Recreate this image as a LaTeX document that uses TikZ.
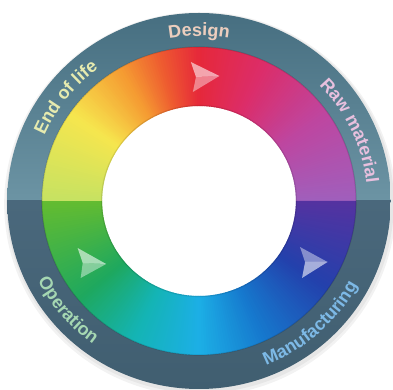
\documentclass[tikz,border=0pt]{standalone}
\usepackage{fontspec}
\newfontfamily\labfont{Liberation Sans}
\usetikzlibrary{decorations.text}
% colour wheel stops
\definecolor{s0}{RGB}{230,40,58}
\definecolor{s1}{RGB}{220,45,105}
\definecolor{s2}{RGB}{190,70,160}
\definecolor{s3}{RGB}{160,95,188}
\definecolor{s4}{RGB}{85,50,160}
\definecolor{s5}{RGB}{35,65,172}
\definecolor{s6}{RGB}{22,120,205}
\definecolor{s7}{RGB}{28,175,230}
\definecolor{s8}{RGB}{20,180,180}
\definecolor{s9}{RGB}{30,168,95}
\definecolor{s10}{RGB}{100,188,48}
\definecolor{s11}{RGB}{198,226,98}
\definecolor{s12}{RGB}{246,230,78}
\definecolor{s13}{RGB}{245,155,50}
\definecolor{s14}{RGB}{238,92,48}
% ring
\definecolor{rtA}{RGB}{70,110,128}
\definecolor{rtB}{RGB}{108,148,164}
\definecolor{rbA}{RGB}{74,104,124}
\definecolor{rbB}{RGB}{64,94,112}
% labels
\definecolor{lDesign}{RGB}{236,206,190}
\definecolor{lEnd}{RGB}{230,235,175}
\definecolor{lRaw}{RGB}{232,192,222}
\definecolor{lOper}{RGB}{165,215,178}
\definecolor{lManu}{RGB}{125,185,230}
\tikzset{
  arclabel/.style 2 args={decorate, decoration={text along path, text align=center,
     text color=#1, text={|\labfont\bfseries\fontsize{18}{18}\selectfont|#2}}},
  arrowhi/.style={fill=white, fill opacity=0.58},
  arrowlo/.style={fill=white, fill opacity=0.42},
}
\begin{document}
\begin{tikzpicture}[x=1pt,y=1pt]
\useasboundingbox (0,0) rectangle (393,390);
\begin{scope}[shift={(199,189)}, xscale=1.02]
  % soft shadow
  \fill[black, opacity=0.05] (1,-3) circle (192);
  \fill[black, opacity=0.05] (1,-2) circle (190);
  % outer ring
  \begin{scope}
    \clip (0,0) circle (188);
    \shade[top color=rtA, bottom color=rtB] (-200,0) rectangle (200,190);
    \shade[top color=rbA, bottom color=rbB] (-200,-190) rectangle (200,0);
  \end{scope}
  % white centre
  \fill[white] (0,0) circle (95.5);
  % colour wheel
  \foreach \sa/\ea/\ca/\cb in {90/65/s0/s1, 65/35/s1/s2, 35/0/s2/s3, 0/-35/s4/s5,
      -35/-65/s5/s6, -65/-90/s6/s7, -90/-115/s7/s8, -115/-140/s8/s9, -140/-180/s9/s10,
      -180/-215/s11/s12, -215/-240/s12/s13, -240/-255/s13/s14, -255/-270/s14/s0} {
    \pgfmathtruncatemacro\n{\sa-\ea}
    \foreach \i in {1,...,\n} {
      \pgfmathsetmacro\p{100-100*(\i-0.5)/\n}
      \pgfmathsetmacro\t{\sa-(\i-1)}
      \pgfmathsetmacro\tt{\sa-\i-0.4}
      \fill[\ca!\p!\cb] (\t:154) arc[start angle=\t, end angle=\tt, radius=154]
        -- (\tt:95) arc[start angle=\tt, end angle=\t, radius=95] -- cycle;
    }
  }
  \draw[black, opacity=0.12, line width=1.2] (0,0) circle (154);
  \draw[black, opacity=0.10, line width=1.2] (0,0) circle (95.5);
  % arrowheads
  \fill[arrowhi] (-8,139) -- (20,125) -- (-3,124) -- cycle;
  \fill[arrowlo] (-3,124) -- (20,125) -- (-6,109) -- cycle;
  \fill[arrowhi] (-119,-47) -- (-91,-63) -- (-114,-62) -- cycle;
  \fill[arrowlo] (-114,-62) -- (-91,-63) -- (-116,-77) -- cycle;
  \fill[arrowlo] (99,-46) -- (126,-61) -- (104,-61) -- cycle;
  \fill[arrowhi] (104,-61) -- (126,-61) -- (101,-77) -- cycle;
  % labels
  \path[arclabel={lDesign}{Design}] (150:165) arc[start angle=150, end angle=30, radius=165];
  \path[arclabel={lEnd}{End of life}] (202:165) arc[start angle=202, end angle=82, radius=165];
  \path[arclabel={lRaw}{Raw material}] (85:165) arc[start angle=85, end angle=-35, radius=165];
  \path[arclabel={lOper}{Operation}] (160:177) arc[start angle=160, end angle=280, radius=177];
  \path[arclabel={lManu}{Manufacturing}] (252:177) arc[start angle=252, end angle=372, radius=177];
\end{scope}
\end{tikzpicture}
\end{document}
